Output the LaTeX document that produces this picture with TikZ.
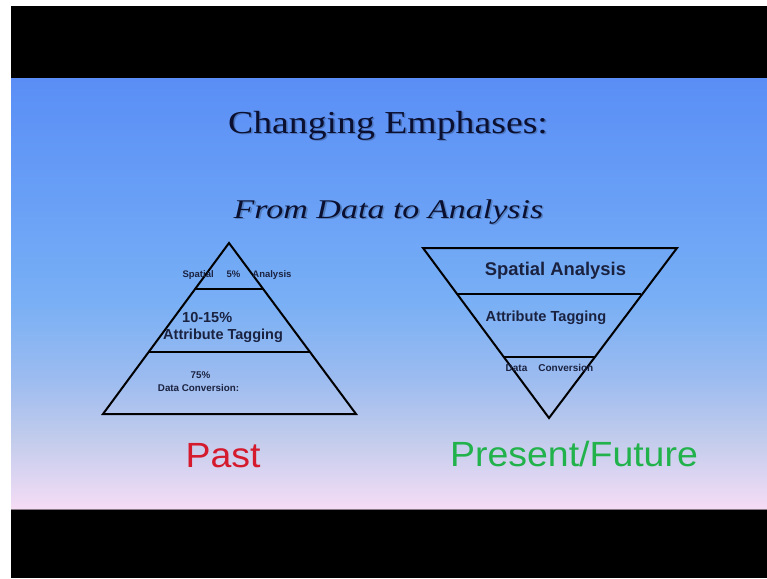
\documentclass[tikz,border=0pt]{standalone}
\usepackage{fontspec}
\setmainfont{Liberation Serif}
\newfontfamily\headfont[FakeStretch=1.18]{Liberation Serif}
\newfontfamily\subheadfont[FakeStretch=1.26]{Liberation Serif}
\newfontfamily\labelfont{Liberation Sans}
\newfontfamily\capfont[FakeStretch=1.07]{Liberation Sans}
\definecolor{bgA}{HTML}{5A8EF6}
\definecolor{bgB}{HTML}{69A0F6}
\definecolor{bgC}{HTML}{78AFF5}
\definecolor{bgD}{HTML}{9DBCF0}
\definecolor{bgE}{HTML}{C3CCEC}
\definecolor{bgF}{HTML}{DFD6F2}
\definecolor{bgG}{HTML}{F6DCF4}
\definecolor{ink}{HTML}{0B1030}
\definecolor{labelink}{HTML}{1A2240}
\definecolor{pastred}{HTML}{D41A2C}
\definecolor{futuregreen}{HTML}{22B24C}
\tikzset{
  headtext/.style={inner sep=0pt, anchor=base, text=ink,
    font=\headfont\fontsize{32}{33}\selectfont},
  subheadtext/.style={inner sep=0pt, anchor=base, text=ink,
    font=\subheadfont\itshape\fontsize{27}{28}\selectfont},
  shadowtext/.style={text=black, opacity=0.22},
  lbl/.style={inner sep=0pt, anchor=base, text=labelink, font=\labelfont\bfseries},
  captext/.style={inner sep=0pt, anchor=base, font=\capfont\fontsize{35}{36}\selectfont},
  tier/.style={draw=black, line width=2pt},
}
\begin{document}
\begin{tikzpicture}[x=1pt,y=-1pt]
\useasboundingbox (0,0) rectangle (767,578);
% frame and slide background
\fill[white] (0,0) rectangle (767,578);
\fill[black] (11,6) rectangle (767,578);
\shade[top color=bgA, bottom color=bgB] (11,78) rectangle (767,200.5);
\shade[top color=bgB, bottom color=bgC] (11,200) rectangle (767,300.5);
\shade[top color=bgC, bottom color=bgD] (11,300) rectangle (767,380.5);
\shade[top color=bgD, bottom color=bgE] (11,380) rectangle (767,440.5);
\shade[top color=bgE, bottom color=bgF] (11,440) rectangle (767,480.5);
\shade[top color=bgF, bottom color=bgG] (11,480) rectangle (767,509);
\draw[color=black!45!bgG, line width=1pt] (11,509.5) -- (767,509.5);

% headings with a soft drop shadow
\node[headtext, shadowtext] at (389.6,134.6) {Changing Emphases:};
\node[headtext] (title) at (388,133) {Changing Emphases:};
\node[subheadtext, shadowtext] at (390.1,219.6) {From Data to Analysis};
\node[subheadtext] (subtitle) at (388.5,218) {From Data to Analysis};

% past: upright pyramid
\coordinate (pA) at (229,243);
\coordinate (pL) at (103,414);
\coordinate (pR) at (356,414);
\coordinate (p1L) at (195,289);
\coordinate (p1R) at (263,289);
\coordinate (p2L) at (148,352);
\coordinate (p2R) at (310,352);
\draw[tier, line join=miter] (pA) -- (pR) -- (pL) -- cycle;
\draw[tier] (p1L) -- (p1R);
\draw[tier] (p2L) -- (p2R);
\node[lbl, font=\labelfont\bfseries\fontsize{9.5}{10}\selectfont] (pastTop) at (237,277)
  {Spatial\hspace{13pt}5\%\hspace{12pt}Analysis};
\node[lbl, anchor=base west, font=\labelfont\bfseries\fontsize{14.5}{15}\selectfont] (pastPct) at (182,322) {10-15\%};
\node[lbl, anchor=base west, font=\labelfont\bfseries\fontsize{14.5}{15}\selectfont] (pastMid) at (163,339) {Attribute Tagging};
\node[lbl, font=\labelfont\bfseries\fontsize{9.8}{10}\selectfont] (pastLowPct) at (200.5,378) {75\%};
\node[lbl, font=\labelfont\bfseries\fontsize{9.8}{10}\selectfont] (pastLow) at (198.5,391) {Data Conversion:};

% present/future: inverted pyramid
\coordinate (fTL) at (423,248);
\coordinate (fTR) at (677,248);
\coordinate (fA) at (549,418);
\coordinate (f1L) at (457,294);
\coordinate (f1R) at (641,294);
\coordinate (f2L) at (504,357);
\coordinate (f2R) at (595,357);
\draw[tier, line join=miter] (fTL) -- (fTR) -- (fA) -- cycle;
\draw[tier] (f1L) -- (f1R);
\draw[tier] (f2L) -- (f2R);
\node[lbl, font=\labelfont\bfseries\fontsize{18.4}{19}\selectfont] (futTop) at (555.5,275) {Spatial Analysis};
\node[lbl, font=\labelfont\bfseries\fontsize{14.6}{15}\selectfont] (futMid) at (546,321.5) {Attribute Tagging};
\node[lbl, font=\labelfont\bfseries\fontsize{10}{11}\selectfont] (futLow) at (549.5,371) {Data\hspace{11pt}Conversion};

% captions
\node[captext, text=pastred] (past) at (223,467) {Past};
\node[captext, text=futuregreen] (future) at (574,466) {Present/Future};
\end{tikzpicture}
\end{document}
